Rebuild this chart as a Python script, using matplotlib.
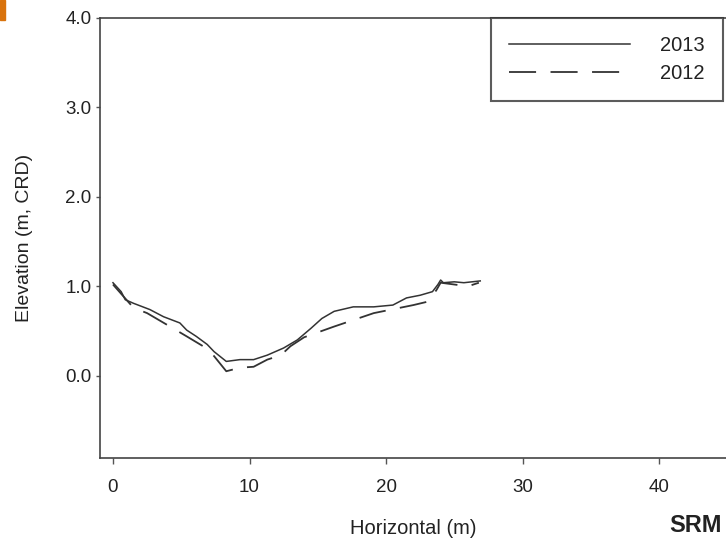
import matplotlib.pyplot as plt
from matplotlib.patches import Rectangle

plt.rcParams['font.family'] = ['Liberation Sans', 'DejaVu Sans']

# survey profiles
x_2013 = [0.0, 0.6, 0.9, 1.5, 2.7, 3.7, 4.9, 5.4, 6.1, 6.9, 7.4, 8.3, 9.3, 10.3,
          11.3, 12.5, 13.5, 14.5, 15.3, 16.2, 17.6, 19.1, 20.5, 21.5, 22.5, 23.4,
          23.8, 24.0, 24.2, 25.0, 25.7, 26.3, 26.9]
y_2013 = [1.04, 0.94, 0.85, 0.81, 0.74, 0.66, 0.59, 0.51, 0.44, 0.35, 0.27, 0.16,
          0.18, 0.18, 0.23, 0.31, 0.40, 0.53, 0.64, 0.72, 0.77, 0.77, 0.79, 0.87,
          0.90, 0.94, 1.02, 1.07, 1.04, 1.05, 1.04, 1.05, 1.06]

x_2012 = [0.0, 0.75, 1.5, 2.5, 4.4, 5.4, 6.6, 7.4, 8.3, 9.3, 10.3, 11.3, 12.3,
          13.0, 14.0, 16.2, 19.1, 22.0, 23.1, 23.7, 24.0, 25.0, 26.0, 26.8]
y_2012 = [1.02, 0.89, 0.76, 0.70, 0.53, 0.44, 0.33, 0.22, 0.05, 0.09, 0.10, 0.18,
          0.23, 0.33, 0.43, 0.55, 0.70, 0.79, 0.83, 0.96, 1.04, 1.02, 1.00, 1.04]

xticks = [0, 10, 20, 30, 40]
yticks = [0.0, 1.0, 2.0, 3.0, 4.0]

fig = plt.figure(figsize=(7.26, 5.42), dpi=100)
ax = fig.add_axes([100 / 726, 84 / 542, 626 / 726, 440 / 542])

dark = '#333333'
ax.plot(x_2013, y_2013, color=dark, lw=1.1, label='2013')
ax.plot(x_2012, y_2012, color=dark, lw=1.3, dashes=(15, 8), label='2012')

ax.set_xlim(-0.95, 44.9)
ax.set_ylim(-0.92, 4.0)
ax.set_xticks(xticks)
ax.set_yticks(yticks)
ax.set_yticklabels([f'{v:.1f}' for v in yticks])

for s in ax.spines.values():
    s.set_color('#444444')
    s.set_linewidth(1.2)
ax.spines['right'].set_visible(False)
ax.tick_params(direction='out', length=3, width=1, color='#555555',
               labelcolor='#222222', labelsize=13.5)
ax.tick_params(axis='y', pad=3)
ax.tick_params(axis='x', length=4, pad=11)

ax.set_xlabel('Horizontal (m)', fontsize=14.5, color='#222222', labelpad=17)
ax.set_ylabel('Elevation (m, CRD)', fontsize=14, color='#222222', labelpad=23)

leg = ax.legend(loc='upper right', bbox_to_anchor=(723 / 726, 1 - 18 / 542),
                bbox_transform=fig.transFigure, fontsize=14.5, fancybox=False,
                handlelength=6.0, handletextpad=1.5, borderpad=0.9,
                labelspacing=0.45, borderaxespad=0)
leg.get_frame().set_edgecolor('#333333')
leg.get_frame().set_linewidth(1.5)
for t in leg.get_texts():
    t.set_color('#222222')

fig.text(722 / 726, 1 - 525 / 542, 'SRM', fontsize=17, fontweight='bold',
         color='#222222', ha='right', va='center')
fig.patches.append(Rectangle((0, 1 - 20 / 542), 5 / 726, 20 / 542,
                             transform=fig.transFigure, color='#d9730d'))

fig.savefig('out.png', dpi=100)
